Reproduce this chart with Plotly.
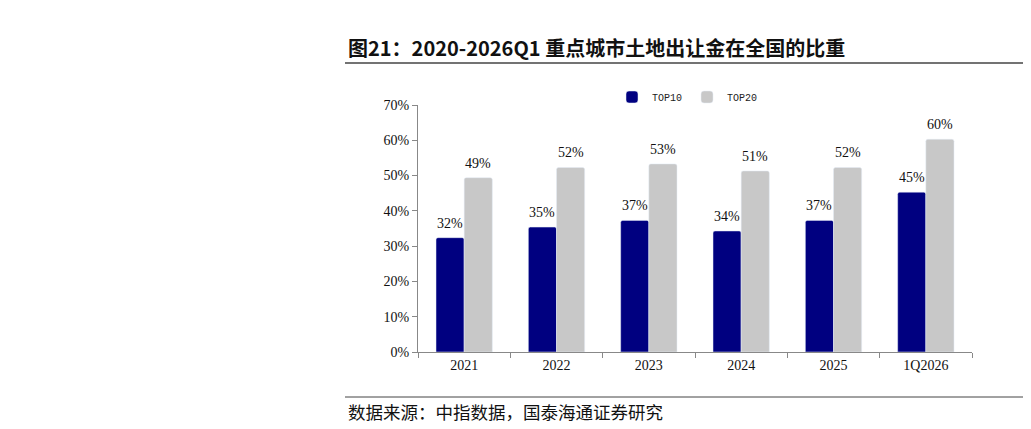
import plotly.graph_objects as go

categories = ["2021", "2022", "2023", "2024", "2025", "1Q2026"]
top10 = [0.324, 0.354, 0.373, 0.343, 0.373, 0.453]
top20 = [0.494, 0.523, 0.533, 0.513, 0.523, 0.603]
labels10 = ["32%", "35%", "37%", "34%", "37%", "45%"]
labels20 = ["49%", "52%", "53%", "51%", "52%", "60%"]
yticks = [0, 0.1, 0.2, 0.3, 0.4, 0.5, 0.6, 0.7]
yticklabels = ["0%", "10%", "20%", "30%", "40%", "50%", "60%", "70%"]

OFF = 8  # page body margin
W, H = 1031 - OFF, 429 - OFF
L, R, T, B = 418 - OFF, 972 - OFF, 105 - OFF, 352 - OFF

def px(x):
    return (x - OFF - L) / (R - L)

def py(y):
    return (B - (y - OFF)) / (B - T)

serif = "Liberation Serif, Times New Roman, serif"
BARGAP = 0.39
half_bar = (R - L) / len(categories) * (1 - BARGAP) / 4

fig = go.Figure()
fig.add_trace(go.Bar(
    name="TOP10", x=categories, y=top10, marker=dict(color="#000080", cornerradius=2),
))
fig.add_trace(go.Bar(
    name="TOP20", x=categories, y=top20, marker=dict(color="#C8C8C8", cornerradius=2),
))

for i, (v, t) in enumerate(zip(top10, labels10)):
    fig.add_annotation(x=i, y=v, text=t, xshift=-half_bar, yshift=5, yanchor="bottom",
                       showarrow=False, font=dict(family=serif, size=14, color="#111"))
for i, (v, t) in enumerate(zip(top20, labels20)):
    fig.add_annotation(x=i, y=v, text=t, xshift=half_bar, yshift=5, yanchor="bottom",
                       showarrow=False, font=dict(family=serif, size=14, color="#111"))

fig.update_layout(
    width=W, height=H,
    margin=dict(l=L, r=W - R, t=T, b=H - B, pad=0),
    paper_bgcolor="white", plot_bgcolor="white",
    barmode="group", bargap=BARGAP, bargroupgap=0,
    showlegend=True,
    legend=dict(orientation="h", x=px(612), xanchor="left", y=py(97), yanchor="middle",
                font=dict(family="Liberation Mono, DejaVu Sans Mono, monospace", size=10, color="#222"),
                itemwidth=30, tracegroupgap=0, bgcolor="rgba(0,0,0,0)"),
    font=dict(family=serif, size=13, color="#111"),
)
fig.update_xaxes(
    type="category", range=[-0.5, len(categories) - 0.5], autorange=False,
    showline=True, linecolor="#888", linewidth=1,
    ticks="outside", tickson="boundaries", ticklen=5, tickcolor="#888",
    tickfont=dict(family=serif, size=14, color="#111"), showgrid=False,
)
fig.update_yaxes(
    range=[0, 0.7], tickvals=yticks, ticktext=yticklabels,
    showline=True, linecolor="#888", linewidth=1,
    ticks="outside", ticklen=5, tickcolor="#888", showgrid=False, zeroline=False,
    tickfont=dict(family=serif, size=14, color="#111"),
)

# Title and rules
fig.add_annotation(
    text="<b>图21：2020-2026Q1 重点城市土地出让金在全国的比重</b>",
    xref="paper", yref="paper", x=px(346), y=py(48), xanchor="left", yanchor="middle",
    showarrow=False, font=dict(family="Noto Sans CJK SC, Liberation Serif", size=20, color="#111"),
)
fig.add_shape(type="line", xref="paper", yref="paper", x0=px(345), x1=px(1025),
              y0=py(63), y1=py(63), line=dict(color="#444", width=1.5))
fig.add_shape(type="line", xref="paper", yref="paper", x0=px(345), x1=px(1025),
              y0=py(397), y1=py(397), line=dict(color="#444", width=1))
fig.add_annotation(
    text="数据来源：中指数据，国泰海通证券研究",
    xref="paper", yref="paper", x=px(346), y=py(411), xanchor="left", yanchor="middle",
    showarrow=False, font=dict(family="Noto Sans CJK SC", size=17.5, color="#111"),
)

fig.write_html("out.html")
